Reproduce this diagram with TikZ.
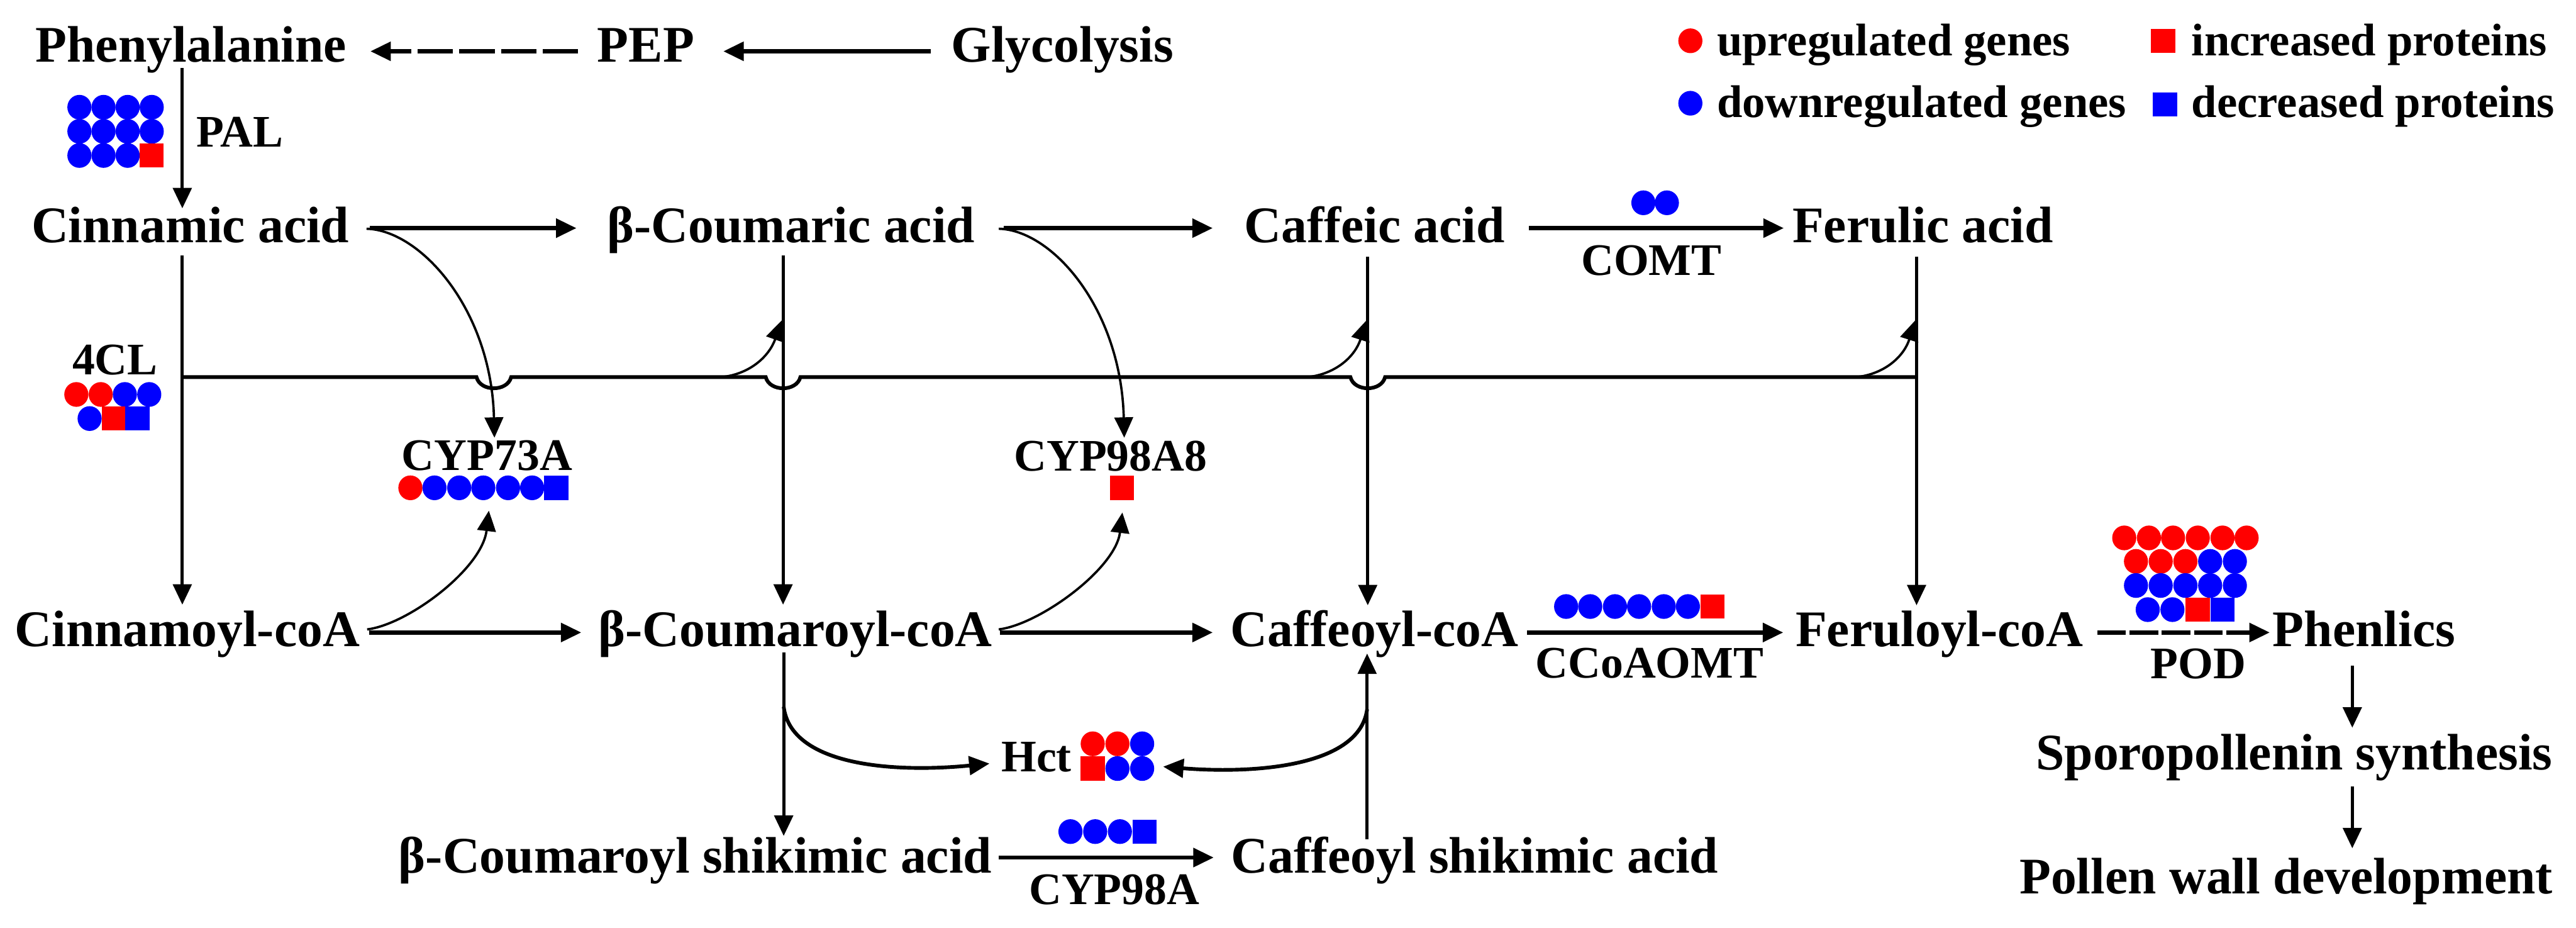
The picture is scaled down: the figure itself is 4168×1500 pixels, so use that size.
\documentclass[tikz,border=0pt]{standalone}
\usepackage{fontspec}
\setmainfont{Liberation Serif}
\usetikzlibrary{arrows.meta,calc}
\definecolor{upred}{RGB}{255,0,0}
\definecolor{dnblue}{RGB}{0,0,255}
\newcommand{\mycirc}[3]{\fill[#1] (#2,#3) ellipse [x radius=3.9pt, y radius=4pt];}
\newcommand{\mysq}[3]{\fill[#1] ({#2-19.5},{#3-19.5}) rectangle ({#2+19.5},{#3+19.5});}
\begin{document}
\begin{tikzpicture}[x=0.2pt,y=-0.2pt,
  cmp/.style={font=\fontsize{16.6pt}{19pt}\selectfont\bfseries, inner sep=0pt, anchor=base},
  enz/.style={font=\fontsize{14.6pt}{17pt}\selectfont\bfseries, inner sep=0pt, anchor=base},
  leg/.style={font=\fontsize{14.8pt}{17pt}\selectfont\bfseries, inner sep=0pt, anchor=base west},
  arrtip/.style={-{Triangle[length=6.6pt,width=6pt]}},
  harr/.style={line width=1.3pt, arrtip},
  varr/.style={line width=1pt, arrtip},
  carr/.style={line width=0.75pt, arrtip},
  hcarr/.style={line width=1.2pt, arrtip},
  dsh/.style={dash pattern=on 11.5pt off 2pt},
  dsh2/.style={dash pattern=on 9.2pt off 1.2pt},
  bus/.style={line width=1.2pt}]
\useasboundingbox (0,0) rectangle (4168,1500);

% compounds
\node[cmp] (phe) at (309,100) {Phenylalanine};
\node[cmp] (pep) at (1045,100) {PEP};
\node[cmp] (gly) at (1719,100) {Glycolysis};
\node[cmp] (cin) at (308,392) {Cinnamic acid};
\node[cmp] (cou) at (1280,392) {β-Coumaric acid};
\node[cmp] (caf) at (2224,392) {Caffeic acid};
\node[cmp] (fer) at (3111,392) {Ferulic acid};
\node[cmp] (cinc) at (303,1046) {Cinnamoyl-coA};
\node[cmp] (couc) at (1287,1046) {β-Coumaroyl-coA};
\node[cmp] (cafc) at (2224,1046) {Caffeoyl-coA};
\node[cmp] (ferc) at (3138,1046) {Feruloyl-coA};
\node[cmp] (phl) at (3825,1046) {Phenlics};
\node[cmp] (cous) at (1125,1412) {β-Coumaroyl shikimic acid};
\node[cmp] (cafs) at (2386,1412) {Caffeoyl shikimic acid};
\node[cmp, anchor=base east] (spo) at (4131,1245) {Sporopollenin synthesis};
\node[cmp, anchor=base east] (pol) at (4131,1445) {Pollen wall development};

% enzymes
\node[enz] (pal) at (388,238) {PAL};
\node[enz] (fourcl) at (186,606) {4CL};
\node[enz] (cyp73) at (788,761) {CYP73A};
\node[enz] (cyp988) at (1797,762) {CYP98A8};
\node[enz] (comt) at (2672,445) {COMT};
\node[enz] (ccoa) at (2669,1096) {CCoAOMT};
\node[enz] (pod) at (3557,1097) {POD};
\node[enz] (hct) at (1677,1248) {Hct};
\node[enz] (cyp98) at (1803,1463) {CYP98A};

% legend
\node[leg] (l1) at (2777,90) {upregulated genes};
\node[leg] (l2) at (2777,190) {downregulated genes};
\node[leg] (l3) at (3545,90) {increased proteins};
\node[leg] (l4) at (3545,190) {decreased proteins};
\mycirc{upred}{2735}{66}
\mycirc{dnblue}{2735}{167}
\mysq{upred}{3500}{66}
\mysq{dnblue}{3503}{169}

% horizontal arrows
\draw[harr] ($(gly.base west)+(-32,-17)$) -- ($(pep.base east)+(46,-17)$);
\draw[harr,dsh] ($(pep.base west)+(-30,-17)$) -- ($(phe.base east)+(38,-17)$);
\draw[harr] ($(cin.base east)+(32,-23)$) -- ($(cou.base west)+(-49,-23)$);
\draw[harr] ($(cou.base east)+(46,-23)$) -- ($(caf.base west)+(-50,-23)$);
\draw[harr] ($(caf.base east)+(38,-23)$) -- ($(fer.base west)+(-13,-23)$);
\draw[harr] ($(cinc.base east)+(14,-23)$) -- ($(couc.base west)+(-27,-23)$);
\draw[harr] ($(couc.base east)+(11,-23)$) -- ($(cafc.base west)+(-28,-23)$);
\draw[harr] ($(cafc.base east)+(13,-23)$) -- ($(ferc.base west)+(-19,-23)$);
\draw[harr,dsh2] ($(ferc.base east)+(22,-23)$) -- ($(phl.base west)+(-4,-23)$);
\draw[harr] ($(cous.base east)+(10,-25)$) -- ($(cafs.base west)+(-27,-25)$);

% vertical arrows
\draw[varr] ($(phe.base)+(-14,10)$) -- ($(cin.base)+(-13,-55)$);
\draw[varr] ($(cin.base)+(-13,21)$) -- ($(cinc.base)+(-8,-68)$);
\draw[varr] ($(cou.base)+(-13,21)$) -- ($(couc.base)+(-20,-68)$);
\draw[varr] ($(caf.base)+(-11,23)$) -- ($(cafc.base)+(-11,-67)$);
\draw[varr] ($(fer.base)+(-10,23)$) -- ($(ferc.base)+(-37,-67)$);
\draw[varr] ($(couc.base)+(-19,9)$) -- ($(cous.base)+(143,-60)$);
\draw[varr] ($(cafs.base)+(-174,-55)$) -- ($(cafc.base)+(-12,11)$);
\draw[varr] ($(phl.base)+(-19,31)$) -- ($(spo.base east)+(-325,-68)$);
\draw[varr] ($(spo.base east)+(-325,27)$) -- ($(pol.base east)+(-325,-73)$);

% 4CL bus line with jumps
\draw[bus] (295,610) -- (771,610) .. controls (777,634) and (821,634) .. (827,610)
  -- (1239,610) .. controls (1245,634) and (1289,634) .. (1295,610)
  -- (2185,610) .. controls (2191,634) and (2235,634) .. (2241,610) -- (3101,610);
\draw[carr] (1167,610) .. controls (1215,605) and (1245,575) .. (1265,518);
\draw[carr] (2115,610) .. controls (2163,605) and (2193,575) .. (2211,518);
\draw[carr] (3003,610) .. controls (3051,605) and (3081,575) .. (3099,518);

% CYP curves
\draw[carr] (593,370) .. controls (680,372) and (795,500) .. (800,708);
\draw[carr] (1616,370) .. controls (1703,372) and (1814,500) .. (1819,708);
\draw[carr] (594,1018) .. controls (660,1010) and (780,920) .. (791,826);
\draw[carr] (1616,1018) .. controls (1682,1010) and (1805,920) .. (1816,829);

% Hct curves
\draw[hcarr] (1268,1143) .. controls (1280,1240) and (1450,1250) .. (1601,1235);
\draw[hcarr] (2212,1147) .. controls (2200,1240) and (2030,1252) .. (1882,1240);

% PAL dots
\foreach \y in {173.5,212.5} {\foreach \x in {128.5,167.5,206.5,245.5} {\mycirc{dnblue}{\x}{\y}}}
\foreach \x in {128.5,167.5,206.5} {\mycirc{dnblue}{\x}{251.5}}
\mysq{upred}{245.5}{251.5}

% 4CL dots
\mycirc{upred}{123.5}{638}
\mycirc{upred}{163}{638}
\mycirc{dnblue}{202}{638}
\mycirc{dnblue}{241.5}{638}
\mycirc{dnblue}{145}{677}
\mysq{upred}{184}{677}
\mysq{dnblue}{222.5}{677}

% CYP73A dots
\mycirc{upred}{664}{789}
\foreach \x in {703,743,782,822,861} {\mycirc{dnblue}{\x}{789}}
\mysq{dnblue}{900}{789}

% CYP98A8
\mysq{upred}{1815}{789}

% COMT
\mycirc{dnblue}{2659}{328}
\mycirc{dnblue}{2697}{328}

% CCoAOMT
\foreach \x in {2534,2573,2613,2652,2692,2731} {\mycirc{dnblue}{\x}{981}}
\mysq{upred}{2771}{981}

% Hct
\mycirc{upred}{1768}{1203}
\mycirc{upred}{1808}{1203}
\mycirc{dnblue}{1848}{1203}
\mysq{upred}{1768}{1243}
\mycirc{dnblue}{1808}{1243}
\mycirc{dnblue}{1848}{1243}

% CYP98A
\foreach \x in {1732,1772,1812} {\mycirc{dnblue}{\x}{1345}}
\mysq{dnblue}{1852}{1345}

% POD
\foreach \x in {3437,3477,3516,3556,3596,3635} {\mycirc{upred}{\x}{870}}
\foreach \x in {3456,3496,3536} {\mycirc{upred}{\x}{908}}
\foreach \x in {3576,3616} {\mycirc{dnblue}{\x}{908}}
\foreach \x in {3456,3496,3536,3576,3616} {\mycirc{dnblue}{\x}{947}}
\mycirc{dnblue}{3475}{986}
\mycirc{dnblue}{3515}{986}
\mysq{upred}{3556}{986}
\mysq{dnblue}{3596}{986}
\end{tikzpicture}
\end{document}
